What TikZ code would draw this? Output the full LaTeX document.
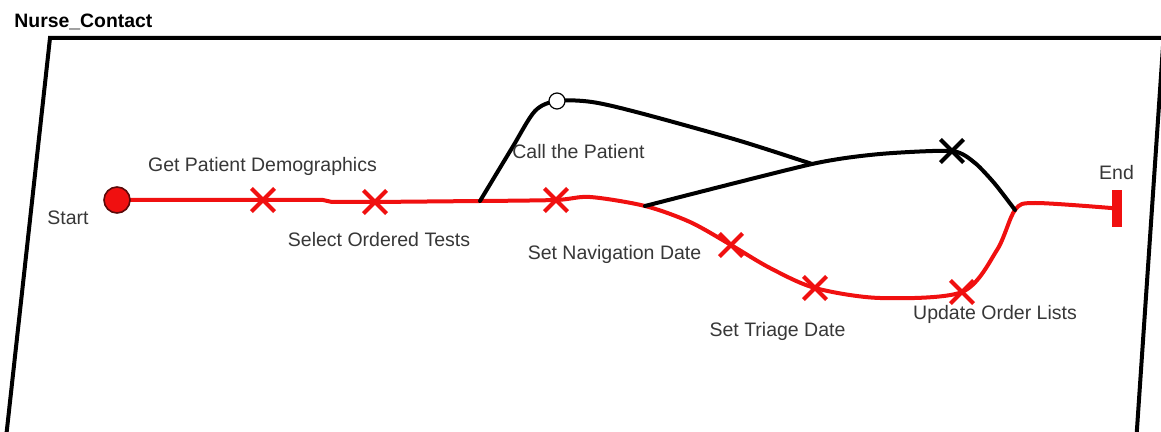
\documentclass[tikz,border=0pt]{standalone}
\usepackage{fontspec}
\setmainfont{Liberation Sans}
\usetikzlibrary{shapes.misc}
\definecolor{flowred}{RGB}{240,16,16}
\definecolor{labelgray}{RGB}{55,55,55}
\definecolor{dotrim}{RGB}{90,10,10}
\pgfdeclarelayer{bg}
\pgfsetlayers{bg,main}
\begin{document}
\begin{tikzpicture}[x=0.5pt,y=-0.5pt,
  lbl/.style={font=\fontsize{9.75}{11}\selectfont, text=labelgray, inner sep=0pt, anchor=base},
  title/.style={font=\fontsize{9.7}{11}\selectfont\bfseries, text=black, inner sep=0pt, anchor=base west},
  redline/.style={draw=flowred, line width=2pt, line cap=round, line join=round},
  blackline/.style={draw=black, line width=2pt, line cap=round, line join=round},
  redmark/.style={cross out, draw=flowred, line width=2.1pt, minimum size=9.5pt, inner sep=0pt},
  blackmark/.style={cross out, draw=black, line width=2.1pt, minimum size=9.5pt, inner sep=0pt},
  frameline/.style={draw=black, line width=2pt}]

\useasboundingbox (0,0) rectangle (1161,432);

% swimlane frame
\begin{scope}
  \clip (0,0) rectangle (1161,432);
  \draw[frameline] (4.7,450) -- (50,38) -- (1175,38);
  \draw[frameline] (1164.1,30) -- (1135.9,445);
\end{scope}
\node[title] (lane) at (14,28) {Nurse\_Contact};

% start / end
\node[circle, fill=flowred, draw=dotrim, line width=0.8pt, minimum size=13pt, inner sep=0pt] (start) at (117,200) {};
\node[rectangle, fill=flowred, minimum width=5pt, minimum height=18.5pt, inner sep=0pt] (end) at (1117,208.5) {};
\node[circle, fill=white, draw=black, line width=0.6pt, minimum size=8pt, inner sep=0pt] (call) at (557,101) {};

% task marks
\node[redmark] (m1) at (263,200) {};
\node[redmark] (m2) at (375,202) {};
\node[redmark] (m3) at (556,200) {};
\node[redmark] (m4) at (731,245) {};
\node[redmark] (m5) at (815,288) {};
\node[redmark] (m6) at (962,292) {};
\node[blackmark] (m7) at (952,151) {};

% route points
\coordinate (fork) at (480,201);
\coordinate (split) at (645,206);
\coordinate (join) at (812,164);
\coordinate (merge) at (1015,210);
\coordinate (r1) at (590,197);
\coordinate (r2) at (690,222);
\coordinate (r3) at (770,268);
\coordinate (r4) at (880,298);
\coordinate (r5) at (997,250);
\coordinate (r6) at (1035,203);
\coordinate (b1) at (512,148);
\coordinate (b2) at (535,111);
\coordinate (b3) at (592,102);
\coordinate (b4) at (640,113);
\coordinate (b5) at (737,140);
\coordinate (b6) at (880,154);
\coordinate (b7) at (975,163);
\coordinate (b8) at (995,184);

\begin{pgfonlayer}{bg}
  % main (red) route
  \draw[redline] (start.center) -- (m1.center) -- (323,200) -- (332,202) -- (m2.center) -- (fork);
  \draw[redline] plot[smooth, tension=0.5] coordinates {(fork) (m3.center) (r1) (split) (r2) (m4.center) (r3) (m5.center) (r4) (m6.center) (r5) (merge) (r6) (end.center)};
  % alternative (black) routes
  \draw[blackline] plot[smooth, tension=0.5] coordinates {(fork) (b1) (b2) (call.center) (b3) (b4) (b5) (join)};
  \draw[blackline] plot[smooth, tension=0.4] coordinates {(split) (join) (b6) (m7.center) (b7) (b8) (merge)};
\end{pgfonlayer}

% labels
\node[lbl] (lstart) at (68,225) {Start};
\node[lbl] (l1) at (262.5,172) {Get Patient Demographics};
\node[lbl] (l2) at (379,247) {Select Ordered Tests};
\node[lbl] (l3) at (578.5,159) {Call the Patient};
\node[lbl] (l4) at (614.5,260) {Set Navigation Date};
\node[lbl] (l5) at (777.5,336) {Set Triage Date};
\node[lbl] (l6) at (995,320) {Update Order Lists};
\node[lbl] (lend) at (1116.5,180) {End};
\end{tikzpicture}
\end{document}
